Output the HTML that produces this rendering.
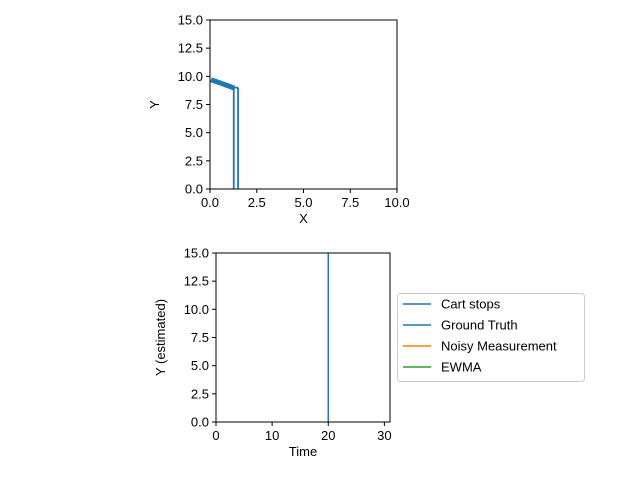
<!DOCTYPE html>
<html><head><meta charset="utf-8"><style>
body{margin:0;background:#fff;font-family:"Liberation Sans",sans-serif}
text{font-family:"Liberation Sans",sans-serif;font-size:13px;fill:#000}
</style></head><body>
<svg id="c" width="640" height="480">
</svg>
<script>
const topTrajX=[0.05,0.3,0.6,0.9,1.1,1.3];
const topTrajY=[9.7,9.55,9.38,9.2,9.08,8.95];
const dropX=[1.27,1.5];
const dropTop=[9.0,9.0];
const topXTicks=[0,2.5,5,7.5,10];
const topYTicks=[0,2.5,5,7.5,10,12.5,15];
const cartStop=[20];
const botXTicks=[0,10,20,30];
const botYTicks=[0,2.5,5,7.5,10,12.5,15];
const legendLabels=["Cart stops","Ground Truth","Noisy Measurement","EWMA"];
const legendColors=["#1f77b4","#1f77b4","#ff7f0e","#2ca02c"];

const svg=document.getElementById('c');
const NS='http://www.w3.org/2000/svg';
function mk(t,a,p){const e=document.createElementNS(NS,t);for(const k in a)e.setAttribute(k,a[k]);(p||svg).appendChild(e);return e;}
function fmt(v){return Number.isInteger(v)&&Math.abs(v)<100&&v%1===0?(v.toFixed(1)):String(v);}

function axes(name,x0,x1,y0,y1,xmin,xmax,ymin,ymax,xt,yt,xfmt,xlabel,ylabel,ylx){
  const g=mk('g',{});
  
  
  const sx=v=>x0+(v-xmin)/(xmax-xmin)*(x1-x0);
  const sy=v=>y1-(v-ymin)/(ymax-ymin)*(y1-y0);
  xt.forEach(v=>{const t=mk('line',{x1:sx(v),x2:sx(v),y1:y1,y2:y1+4,stroke:'#000'},g);
    
    const l=mk('text',{x:sx(v),y:y1+18,'text-anchor':'middle'},g);l.textContent=xfmt(v);
    });
  yt.forEach(v=>{const t=mk('line',{x1:x0-4,x2:x0,y1:sy(v),y2:sy(v),stroke:'#000'},g);
    
    const l=mk('text',{x:x0-7,y:sy(v)+4.5,'text-anchor':'end'},g);l.textContent=v.toFixed(1);
    });
  const xl=mk('text',{x:(x0+x1)/2,y:y1+34,'text-anchor':'middle'},g);xl.textContent=xlabel;
  
  const yl=mk('text',{x:ylx,y:(y0+y1)/2,'text-anchor':'middle',transform:`rotate(-90 ${ylx} ${(y0+y1)/2})`},g);yl.textContent=ylabel;
  
  return {g,sx,sy,frame:()=>{const r=mk('rect',{x:x0,y:y0,width:x1-x0,height:y1-y0,fill:'none',stroke:'#000','stroke-width':1},g);
    }};
}

// top plot
const A=axes('position-plot',210,397,20,189,0,10,0,15,topXTicks,topYTicks,v=>v.toFixed(1),'X','Y',159);
const traj=mk('polyline',{points:topTrajX.map((x,i)=>A.sx(x)+','+A.sy(topTrajY[i])).join(' '),fill:'none',stroke:'#1f77b4','stroke-width':5},A.g);

dropX.forEach((x,i)=>{const l=mk('line',{x1:A.sx(x),x2:A.sx(x),y1:A.sy(dropTop[i]),y2:A.sy(0),stroke:'#1f77b4','stroke-width':1.8},A.g);
  });
const cap=mk('line',{x1:A.sx(dropX[0]),x2:A.sx(dropX[1]),y1:A.sy(dropTop[0]),y2:A.sy(dropTop[1]),stroke:'#1f77b4','stroke-width':1.8},A.g);

A.frame();

// bottom plot
const B=axes('estimate-plot',216,390,253,422,0,31,0,15,botXTicks,botYTicks,v=>String(v),'Time','Y (estimated)',165);
cartStop.forEach(v=>{const l=mk('line',{x1:B.sx(v),x2:B.sx(v),y1:253,y2:422,stroke:'#1f77b4','stroke-width':1.5},B.g);
  });
B.frame();

// legend
const lg=mk('g',{});


mk('rect',{x:397.5,y:293.5,width:187,height:88,rx:3,fill:'#fff',stroke:'#ccc'},lg);
legendLabels.forEach((s,i)=>{const y=304+i*21;
  const e=mk('g',{},lg);
  
  
  mk('line',{x1:403,x2:431,y1:y,y2:y,stroke:legendColors[i],'stroke-width':1.5},e);
  const t=mk('text',{x:441,y:y+4.5},e);t.textContent=s;});
</script>
</body></html>
